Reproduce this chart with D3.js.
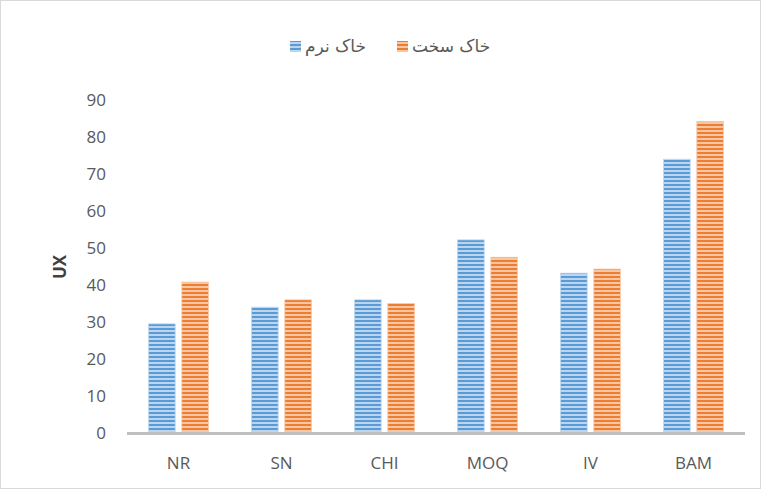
<!DOCTYPE html>
<html>
<meta charset="utf-8">
<title>UX</title>
<style>
body {
  margin: 0;
  font-family: "Open Sans", "DejaVu Sans", sans-serif;
  background: #fff;
}
.tick text {
  fill: #595959;
  font-size: 17px;
  font-family: "Open Sans", sans-serif;
}
</style>
<body>
<div id="chart"></div>
<script src="https://d3js.org/d3.v7.min.js"></script>
<script>

var categories = ["NR", "SN", "CHI", "MOQ", "IV", "BAM"];
var seriesNames = ["خاک نرم", "خاک سخت"];
var softSoil = [29.5, 34, 36, 52.2, 43.2, 74];
var hardSoil = [40.8, 36, 35, 47.5, 44.3, 84.2];
var yTicks = [0, 10, 20, 30, 40, 50, 60, 70, 80, 90];

var width = 761, height = 489;
var margin = {top: 100, right: 16, bottom: 56, left: 127};

var svg = d3.select("#chart").append("svg")
  .attr("width", width)
  .attr("height", height);

// outer frame
svg.append("rect")
  .attr("x", 0.5).attr("y", 0.5)
  .attr("width", width - 1).attr("height", height - 1)
  .attr("fill", "#fff")
  .attr("stroke", "#d9d9d9");

var colors = [
  {dark: "#5b9bd5", light: "#b9d5ef", id: "stripeBlue"},
  {dark: "#ed7d31", light: "#f8c6a3", id: "stripeOrange"}
];

var defs = svg.append("defs");
colors.forEach(function(c) {
  var p = defs.append("pattern")
    .attr("id", c.id)
    .attr("patternUnits", "userSpaceOnUse")
    .attr("width", 8).attr("height", 4);
  p.append("rect").attr("width", 8).attr("height", 4).attr("fill", c.light);
  p.append("rect").attr("y", 0).attr("width", 8).attr("height", 2).attr("fill", c.dark);
});

var x0 = d3.scaleBand()
  .domain(categories)
  .range([margin.left, width - margin.right])
  .paddingInner(0.42)
  .paddingOuter(0.21);

var x1 = d3.scaleBand()
  .domain([0, 1])
  .range([0, x0.bandwidth()])
  .paddingInner(0.2);

var y = d3.scaleLinear()
  .domain([0, 90])
  .range([433, 100]);

var data = categories.map(function(c, i) {
  return {cat: c, values: [softSoil[i], hardSoil[i]]};
});

var groups = svg.append("g").selectAll("g")
  .data(data)
  .enter().append("g")
  .attr("transform", function(d) { return "translate(" + x0(d.cat) + ",0)"; });

groups.selectAll("rect")
  .data(function(d) { return d.values.map(function(v, k) { return {k: k, v: v}; }); })
  .enter().append("rect")
  .attr("x", function(d) { return x1(d.k); })
  .attr("y", function(d) { return y(d.v); })
  .attr("width", x1.bandwidth())
  .attr("height", function(d) { return y(0) - y(d.v); })
  .attr("fill", function(d) { return "url(#" + colors[d.k].id + ")"; })
  .attr("stroke", function(d) { return colors[d.k].light; })
  .attr("stroke-width", 0.8);

// y axis (labels only)
var yAxis = svg.append("g")
  .attr("transform", "translate(" + (margin.left - 21) + ",0)")
  .call(d3.axisLeft(y).tickValues(yTicks).tickSize(0).tickPadding(0));
yAxis.select(".domain").remove();
yAxis.selectAll("text").attr("dy", "0.35em");

// baseline
svg.append("line")
  .attr("x1", margin.left).attr("x2", width - margin.right)
  .attr("y1", y(0) + 0.5).attr("y2", y(0) + 0.5)
  .attr("stroke", "#bfbfbf")
  .attr("stroke-width", 3);

// x axis labels
var xAxis = svg.append("g")
  .attr("transform", "translate(0," + (y(0) + 2) + ")")
  .call(d3.axisBottom(x0).tickSize(0).tickPadding(22));
xAxis.select(".domain").remove();

// axis title
svg.append("text")
  .attr("transform", "translate(66,267) rotate(-90)")
  .attr("text-anchor", "middle")
  .attr("font-size", 17)
  .attr("font-weight", "bold")
  .attr("fill", "#404040")
  .text("UX");

// legend
var legendItems = [
  {name: seriesNames[0], c: colors[0], x: 290},
  {name: seriesNames[1], c: colors[1], x: 397}
];
var legend = svg.append("g");
legendItems.forEach(function(d) {
  legend.append("rect")
    .attr("x", d.x).attr("y", 41)
    .attr("width", 11).attr("height", 11)
    .attr("fill", "url(#" + d.c.id + ")");
  legend.append("text")
    .attr("x", d.x + 15).attr("y", 46)
    .attr("dy", "0.35em")
    .attr("text-anchor", "start")
    .attr("font-size", 17)
    .attr("fill", "#595959")
    .attr("font-family", "'DejaVu Sans', sans-serif")
    .text(d.name);
});

</script>
</body>
</html>
